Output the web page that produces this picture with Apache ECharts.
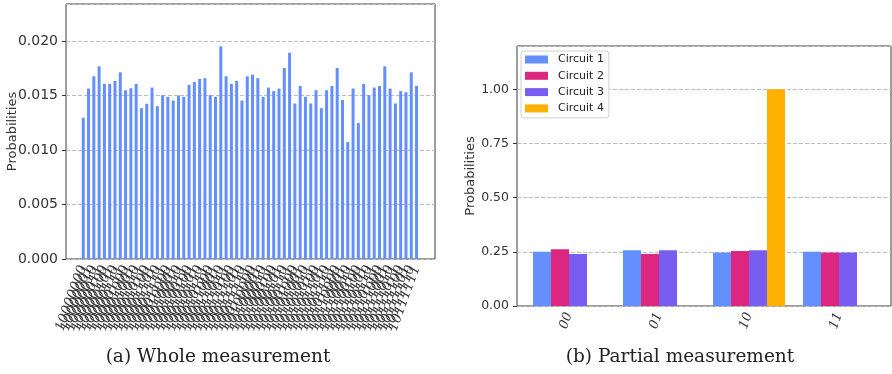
<!DOCTYPE html>
<html>
<head>
<meta charset="utf-8">
<script src="https://cdn.jsdelivr.net/npm/echarts@6/dist/echarts.min.js"></script>
<style>
  html, body { margin: 0; padding: 0; background: #fff; }
  #chart { width: 892px; height: 374px; }
</style>
</head>
<body>
<div id="chart"></div>
<script>
// (a) whole measurement: 64 outcomes "10xxxxxx"
const wholeLabels = [];
for (let i = 0; i < 64; i++) wholeLabels.push('10' + i.toString(2).padStart(6, '0'));
const wholeValues = [
  0.01296, 0.01564, 0.01677, 0.01768, 0.01607, 0.01607, 0.01634, 0.01713,
  0.01549, 0.01567, 0.01607, 0.01384, 0.01424, 0.01573, 0.01402, 0.01503,
  0.01488, 0.01454, 0.01500, 0.01488, 0.01598, 0.01625, 0.01652, 0.01659,
  0.01503, 0.01488, 0.01951, 0.01677, 0.01607, 0.01634, 0.01454, 0.01677,
  0.01692, 0.01659, 0.01488, 0.01573, 0.01540, 0.01564, 0.01753, 0.01893,
  0.01427, 0.01588, 0.01488, 0.01427, 0.01549, 0.01384, 0.01549, 0.01588,
  0.01753, 0.01460, 0.01073, 0.01564, 0.01247, 0.01607, 0.01503, 0.01573,
  0.01588, 0.01768, 0.01564, 0.01427, 0.01540, 0.01530, 0.01713, 0.01588
];

// (b) partial measurement
const partialLabels = ['00', '01', '10', '11'];
const circuitNames = ['Circuit 1', 'Circuit 2', 'Circuit 3', 'Circuit 4'];
const circuit1 = [0.250, 0.257, 0.247, 0.250];
const circuit2 = [0.262, 0.240, 0.254, 0.247];
const circuit3 = [0.240, 0.257, 0.257, 0.247];
const circuit4 = [0, 0, 1.0, 0];
const circuitColors = ['#648fff', '#dc267f', '#785ef0', '#ffb000'];

const chart = echarts.init(document.getElementById('chart'));

const gridLine = { show: true, lineStyle: { color: '#bdbdbd', type: [4, 2], width: 1 } };
const tickLabel = { fontFamily: 'DejaVu Sans', color: '#333' };
// rotated serif italic tick labels like the matplotlib original
const catLabel = size => ({
  interval: 0, rotate: 70, margin: 7, hideOverlap: false,
  fontFamily: 'DejaVu Serif', fontStyle: 'italic', fontSize: size, color: '#333'
});

const option = {
  animation: false,
  backgroundColor: '#fff',
  grid: [
    // frame + inner bar grid for each panel
    { left: 66, top: 4, width: 369, height: 255, show: true, borderColor: '#3a3a3a', borderWidth: 1 },
    { left: 80.6, top: 4, width: 338.6, height: 255 },
    { left: 517, top: 46, width: 374, height: 260, show: true, borderColor: '#3a3a3a', borderWidth: 1 },
    { left: 524, top: 46, width: 360, height: 260 }
  ],
  xAxis: [
    { gridIndex: 0, type: 'value', min: 0, max: 1, show: false },
    {
      gridIndex: 1, type: 'category', data: wholeLabels,
      axisLine: { show: false },
      axisTick: { alignWithLabel: true, length: 4, lineStyle: { color: '#333' } },
      axisLabel: catLabel(13.5)
    },
    { gridIndex: 2, type: 'value', min: 0, max: 1, show: false },
    {
      gridIndex: 3, type: 'category', data: partialLabels,
      axisLine: { show: false },
      axisTick: { alignWithLabel: true, length: 4, lineStyle: { color: '#333' } },
      axisLabel: catLabel(13)
    }
  ],
  yAxis: [
    {
      gridIndex: 0, type: 'value', min: 0, max: 0.0234, interval: 0.005,
      name: 'Probabilities', nameLocation: 'middle', nameGap: 47, nameMoveOverlap: false,
      nameTextStyle: { fontFamily: 'DejaVu Sans', fontSize: 13, color: '#333' },
      axisLine: { show: false },
      axisTick: { show: true, length: 4, lineStyle: { color: '#333' } },
      axisLabel: Object.assign({ fontSize: 14, showMaxLabel: false, formatter: v => v.toFixed(3) }, tickLabel),
      splitLine: gridLine
    },
    { gridIndex: 1, type: 'value', min: 0, max: 0.0234, show: false, splitLine: { show: false } },
    {
      gridIndex: 2, type: 'value', min: 0, max: 1.2, interval: 0.25,
      name: 'Probabilities', nameLocation: 'middle', nameGap: 40,
      nameTextStyle: { fontFamily: 'DejaVu Sans', fontSize: 13, color: '#333' },
      axisLine: { show: false },
      axisTick: { show: true, length: 4, lineStyle: { color: '#333' } },
      axisLabel: Object.assign({ fontSize: 12.5, showMaxLabel: false, formatter: v => v.toFixed(2) }, tickLabel),
      splitLine: gridLine
    },
    { gridIndex: 3, type: 'value', min: 0, max: 1.2, show: false, splitLine: { show: false } }
  ],
  legend: {
    data: circuitNames,
    orient: 'vertical', left: 521, top: 51,
    padding: [3, 5, 4, 4], itemGap: 5.3,
    itemWidth: 23, itemHeight: 8, icon: 'rect',
    backgroundColor: 'rgba(255,255,255,0.85)',
    borderColor: '#d0d0d0', borderWidth: 1, borderRadius: 3,
    textStyle: { fontFamily: 'DejaVu Sans', fontSize: 11, color: '#222', padding: [0, 0, 0, 5] }
  },
  graphic: [
    { type: 'text', x: 218, y: 357,
      style: { text: '(a) Whole measurement', textAlign: 'center', textVerticalAlign: 'middle',
               font: '18.5px "DejaVu Serif"', fill: '#222' } },
    { type: 'text', x: 680, y: 357,
      style: { text: '(b) Partial measurement', textAlign: 'center', textVerticalAlign: 'middle',
               font: '18.5px "DejaVu Serif"', fill: '#222' } }
  ],
  series: [
    {
      type: 'bar', xAxisIndex: 1, yAxisIndex: 1, data: wholeValues,
      barWidth: 3, itemStyle: { color: '#648fff' }
    }
  ].concat([circuit1, circuit2, circuit3, circuit4].map((vals, i) => ({
    type: 'bar', name: circuitNames[i], xAxisIndex: 3, yAxisIndex: 3, data: vals,
    barWidth: 18, barGap: '0%', itemStyle: { color: circuitColors[i] }
  })))
};

chart.setOption(option);
</script>
</body>
</html>
